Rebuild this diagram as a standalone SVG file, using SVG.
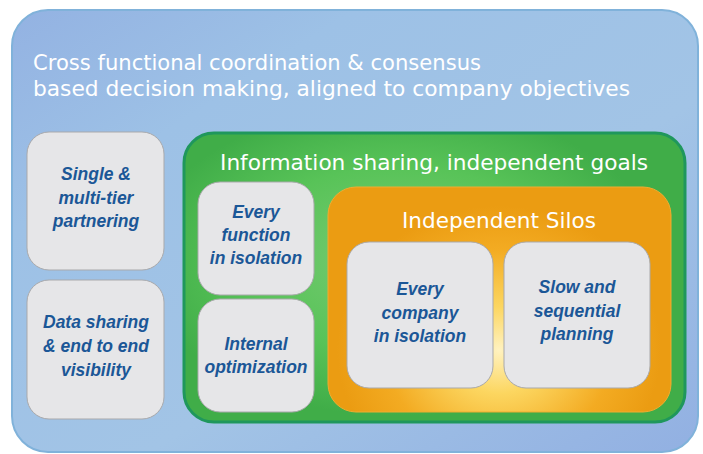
<svg xmlns="http://www.w3.org/2000/svg" width="703" height="454" viewBox="0 0 703 454">
  <defs>
    <linearGradient id="blueFill" x1="0" y1="0" x2="1" y2="1">
      <stop offset="0" stop-color="#93b2e2"/>
      <stop offset="0.25" stop-color="#9dc1e6"/>
      <stop offset="0.6" stop-color="#a2c4e6"/>
      <stop offset="1" stop-color="#92b0e2"/>
    </linearGradient>
    <radialGradient id="greenFill" gradientUnits="userSpaceOnUse" cx="400" cy="260" r="260" gradientTransform="translate(400 260) scale(1 0.6) translate(-400 -260)">
      <stop offset="0" stop-color="#7acb76"/>
      <stop offset="0.6" stop-color="#58c358"/>
      <stop offset="1" stop-color="#40ad48"/>
    </radialGradient>
    <radialGradient id="orangeFill" gradientUnits="userSpaceOnUse" cx="499" cy="350" r="180" gradientTransform="translate(499 350) scale(0.9 0.8) translate(-499 -350)">
      <stop offset="0" stop-color="#fff2c0"/>
      <stop offset="0.3" stop-color="#fcd660"/>
      <stop offset="0.7" stop-color="#f3ab22"/>
      <stop offset="1" stop-color="#eb9c12"/>
    </radialGradient>
    <style>
      .card { fill: #e6e6e8; stroke: #a9a9ab; stroke-width: 1; }
      .label { font-family: "Liberation Sans", Arial, sans-serif; font-weight: bold; font-style: italic; font-size: 17.5px; fill: #1b5797; text-anchor: middle; }
      .head { font-family: "DejaVu Sans", "Liberation Sans", sans-serif; fill: #ffffff; }
    </style>
  </defs>

  <!-- outer level: cross functional coordination -->
  <g id="level-collaborative">
    <rect x="12" y="10" width="686" height="442" rx="36" ry="36" fill="url(#blueFill)" stroke="#80b2da" stroke-width="2"/>
    <text class="head" font-size="22" textLength="448" lengthAdjust="spacingAndGlyphs" x="33" y="70">Cross functional coordination &amp; consensus</text>
    <text class="head" font-size="22" textLength="597" lengthAdjust="spacingAndGlyphs" x="33" y="96">based decision making, aligned to company objectives</text>
  </g>

  <g id="node-partnering">
    <rect class="card" x="27" y="132" width="137" height="138" rx="22" ry="22"/>
    <text class="label" x="96" y="180">Single &amp;</text>
    <text class="label" x="96" y="203.5">multi-tier</text>
    <text class="label" x="96" y="227">partnering</text>
  </g>

  <g id="node-visibility">
    <rect class="card" x="27" y="280" width="137" height="139" rx="22" ry="22"/>
    <text class="label" x="96" y="328">Data sharing</text>
    <text class="label" x="96" y="352">&amp; end to end</text>
    <text class="label" x="96" y="376">visibility</text>
  </g>

  <!-- middle level: information sharing -->
  <g id="level-information-sharing">
    <rect x="184" y="133" width="501" height="289" rx="30" ry="30" fill="url(#greenFill)" stroke="#1f975c" stroke-width="3"/>
    <text class="head" font-size="21" textLength="428" lengthAdjust="spacingAndGlyphs" x="220" y="170">Information sharing, independent goals</text>
  </g>

  <g id="node-function-isolation">
    <rect class="card" x="198" y="182" width="116" height="113" rx="22" ry="22"/>
    <text class="label" x="256" y="218">Every</text>
    <text class="label" x="256" y="241">function</text>
    <text class="label" x="256" y="264">in isolation</text>
  </g>

  <g id="node-internal-optimization">
    <rect class="card" x="198" y="299" width="116" height="113" rx="22" ry="22"/>
    <text class="label" x="256" y="350">Internal</text>
    <text class="label" x="256" y="373">optimization</text>
  </g>

  <!-- inner level: independent silos -->
  <g id="level-independent-silos">
    <rect x="328" y="187" width="343" height="225" rx="28" ry="28" fill="url(#orangeFill)" stroke="#f0ac30" stroke-width="1"/>
    <text class="head" font-size="21" textLength="194" lengthAdjust="spacingAndGlyphs" x="402" y="228">Independent Silos</text>
  </g>

  <g id="node-company-isolation">
    <rect class="card" x="347" y="242" width="146" height="146" rx="22" ry="22"/>
    <text class="label" x="420" y="295">Every</text>
    <text class="label" x="420" y="318.5">company</text>
    <text class="label" x="420" y="342">in isolation</text>
  </g>

  <g id="node-sequential-planning">
    <rect class="card" x="504" y="242" width="146" height="146" rx="22" ry="22"/>
    <text class="label" x="577" y="293">Slow and</text>
    <text class="label" x="577" y="316.5">sequential</text>
    <text class="label" x="577" y="340">planning</text>
  </g>

  <g id="connectors"></g>
</svg>
